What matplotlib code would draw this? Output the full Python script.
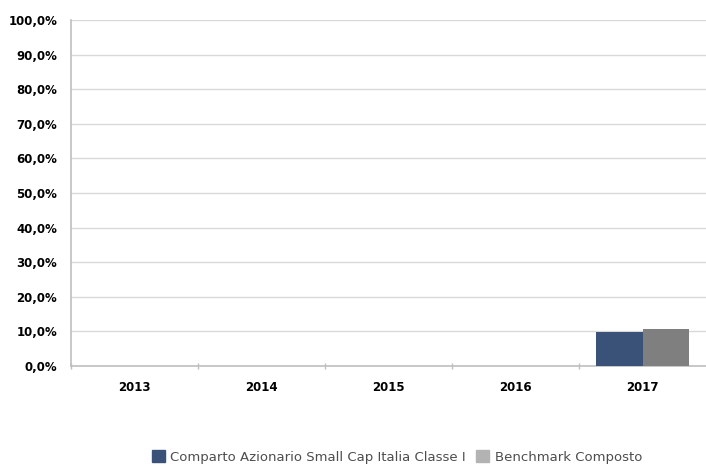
import numpy as np
import matplotlib.pyplot as plt
from matplotlib.patches import Patch
from matplotlib.ticker import FixedLocator
from matplotlib import font_manager

# dati
anni = ['2013', '2014', '2015', '2016', '2017']
comparto = [0, 0, 0, 0, 9.9]
benchmark = [0, 0, 0, 0, 10.7]
nomi_serie = ['Comparto Azionario Small Cap Italia Classe I', 'Benchmark Composto']
tick_y = [0, 10, 20, 30, 40, 50, 60, 70, 80, 90, 100]

blu = '#3b5278'
grigio_barra = '#7f7f7f'
grigio_legenda = '#b3b3b3'

# font stretto per la legenda, se c'è
nomi_font = {f.name for f in font_manager.fontManager.ttflist}
if 'Liberation Sans Narrow' in nomi_font:
    font_leg = {'family': 'Liberation Sans Narrow', 'size': 11.5}
elif 'DejaVu Sans Condensed' in nomi_font:
    font_leg = {'family': 'DejaVu Sans', 'stretch': 'condensed', 'size': 10.4}
else:
    font_leg = {'family': 'DejaVu Sans', 'size': 9.5}

fig = plt.figure(figsize=(7.06, 4.70), dpi=100)
ax = fig.add_axes([0.1006, 0.2213, 0.8994, 0.7361])

x = np.arange(len(anni))
w = 0.37
ax.bar(x - w / 2, comparto, w, color=blu, zorder=3)
ax.bar(x + w / 2, benchmark, w, color=grigio_barra, zorder=3)

ax.set_xlim(-0.5, len(anni) - 0.5)
ax.set_ylim(0, 100)
ax.set_yticks(tick_y)
ax.set_yticklabels([f'{v:.1f}%'.replace('.', ',') for v in tick_y],
                   fontsize=8.5, fontweight='bold')
ax.tick_params(axis='y', length=0, pad=10)
ax.grid(axis='y', color='#d9d9d9', linewidth=1, zorder=0)

ax.set_xticks(x)
ax.set_xticklabels(anni, fontsize=8.5, fontweight='bold')
ax.tick_params(axis='x', which='major', length=0, pad=11)
ax.xaxis.set_minor_locator(FixedLocator(np.arange(-0.5, len(anni) - 0.5, 1.0)))
ax.tick_params(axis='x', which='minor', length=5, direction='inout',
               color='#bfbfbf', width=1)

for s in ['top', 'right']:
    ax.spines[s].set_visible(False)
for s in ['left', 'bottom']:
    ax.spines[s].set_color('#bfbfbf')
    ax.spines[s].set_linewidth(1.2)

maniglie = [Patch(color=blu), Patch(color=grigio_legenda)]
fig.legend(maniglie, nomi_serie, loc='center', bbox_to_anchor=(0.562, 0.028),
           ncol=2, frameon=False, handlelength=1.0, handleheight=1.0,
           handletextpad=0.4, columnspacing=0.8,
           prop=font_leg, labelcolor='#4d4d4d')

fig.savefig('out.png', dpi=100)
